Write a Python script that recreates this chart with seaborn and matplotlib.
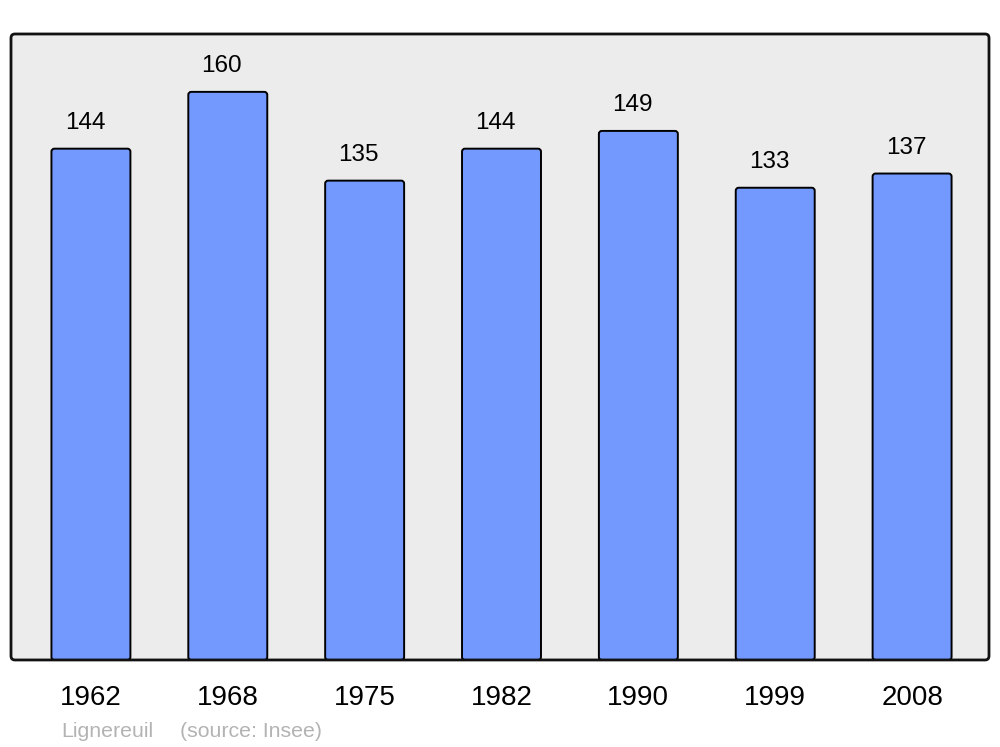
import pandas as pd
import numpy as np
import matplotlib.pyplot as plt
import seaborn as sns
from matplotlib.patches import FancyBboxPatch

# Data
years = ["1962", "1968", "1975", "1982", "1990", "1999", "2008"]
population = [144, 160, 135, 144, 149, 133, 137]

df = pd.DataFrame({"year": years, "pop": population})

sns.set_theme(style="white")
plt.rcParams['font.family'] = ['Liberation Sans', 'DejaVu Sans']

fig = plt.figure(figsize=(10, 7.47), dpi=100)
ax_rect = [0.011, 0.1165, 0.978, 0.838]
ax = fig.add_axes(ax_rect)
ax.set_facecolor("none")

sns.barplot(data=df, x="year", y="pop", color="#7399ff", saturation=1,
            width=0.577, edgecolor="black", linewidth=1.4, ax=ax)

ax.set_xlim(-0.584, 6.562)
ax.set_ylim(0, 176.3)

# swap the square bars for slightly rounded ones
x_px = 978 / (6.562 + 0.584)
y_px = 626 / 176.3
for p in list(ax.patches):
    x, y, w, h = p.get_x(), p.get_y(), p.get_width(), p.get_height()
    rb = FancyBboxPatch((x, y), w, h,
                        boxstyle="round,pad=0,rounding_size=%f" % (3 / x_px),
                        mutation_aspect=x_px / y_px,
                        facecolor=p.get_facecolor(), edgecolor="black",
                        linewidth=1.4, zorder=p.get_zorder())
    p.remove()
    ax.add_patch(rb)

# Value labels above bars
for i, v in enumerate(population):
    ax.annotate(str(v), (i, v), xytext=(-4.3, 14.4), textcoords="offset points",
                ha="center", va="baseline", fontsize=17.5, color="black")

ax.set_xlabel("")
ax.set_ylabel("")
ax.set_yticks([])
ax.tick_params(axis="x", length=0, pad=18, labelsize=20, colors="black")
for s in ax.spines.values():
    s.set_visible(False)

# rounded background + frame
bg = FancyBboxPatch((ax_rect[0], ax_rect[1]), ax_rect[2], ax_rect[3],
                    boxstyle="round,pad=0,rounding_size=0.004",
                    mutation_aspect=1000 / 747, transform=fig.transFigure,
                    facecolor="#ececec", edgecolor="none", zorder=-1)
frame = FancyBboxPatch((ax_rect[0], ax_rect[1]), ax_rect[2], ax_rect[3],
                       boxstyle="round,pad=0,rounding_size=0.004",
                       mutation_aspect=1000 / 747, transform=fig.transFigure,
                       facecolor="none", edgecolor="#111111", linewidth=2, zorder=5)
fig.add_artist(bg)
fig.add_artist(frame)

fig.text(0.061, 0.014, "Lignereuil", fontsize=15.3, color="#b3b3b3", ha="left", va="baseline")
fig.text(0.180, 0.014, "(source: Insee)", fontsize=15.3, color="#b3b3b3", ha="left", va="baseline")

plt.savefig("out.png", dpi=100)
